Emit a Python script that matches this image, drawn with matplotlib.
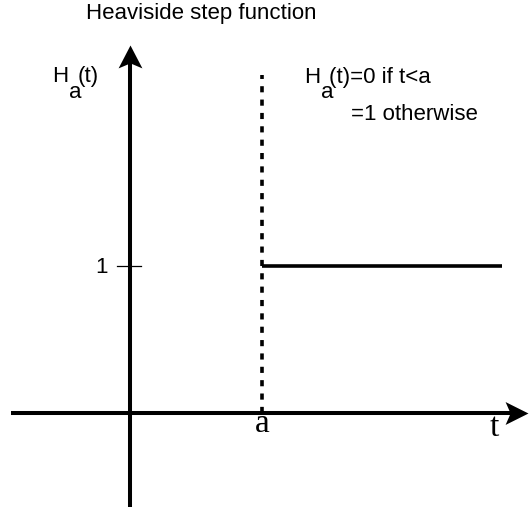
import matplotlib
matplotlib.use("Agg")
from matplotlib import pyplot as plt
from matplotlib.path import Path

# step position and level
a_pos = 1.0
step_level = 1.0
step_t = [a_pos, 2.818]
step_h = [step_level, step_level]

# axis extents (data units)
t_axis = [-0.902, 3.015]
h_axis = [-0.639, 2.503]
dash_top = 2.299
tick_span = [-0.098, 0.083]

sans = "Liberation Sans"
serif = "Liberation Serif"
fs = 16

fig = plt.figure(figsize=(5.3, 5.12), dpi=100)
ax = fig.add_axes([0, 0, 1, 1])
ax.set_xlim(-0.985, 3.030)
ax.set_ylim(-0.673, 2.810)
ax.axis("off")

# arrow heads with a notched back, tip at the marker origin
head_up = Path([(0, 0), (-0.52, -1), (0, -0.78), (0.52, -1), (0, 0)],
               [Path.MOVETO, Path.LINETO, Path.LINETO, Path.LINETO, Path.CLOSEPOLY])
head_right = Path([(0, 0), (-1, 0.5), (-0.78, 0), (-1, -0.5), (0, 0)],
                  [Path.MOVETO, Path.LINETO, Path.LINETO, Path.LINETO, Path.CLOSEPOLY])

# horizontal axis
ax.plot([t_axis[0], t_axis[1] - 0.1], [0, 0], color="black", lw=2.9, solid_capstyle="butt")
ax.plot([t_axis[1]], [0], marker=head_right, ms=33, color="black", mew=0)
# vertical axis
ax.plot([0, 0], [h_axis[0], h_axis[1] - 0.1], color="black", lw=2.9, solid_capstyle="butt")
ax.plot([0], [h_axis[1]], marker=head_up, ms=33, color="black", mew=0)

# dashed line at t=a
ax.plot([a_pos, a_pos], [0, dash_top], color="black", lw=2.6,
        linestyle=(0, (1.7, 2.0)), solid_capstyle="butt")
# step
ax.plot(step_t, step_h, color="black", lw=2.6, solid_capstyle="butt")
# tick at 1
ax.plot(tick_span, [step_level, step_level], color="black", lw=0.9)

ax.text(-0.167, 0.952, "1", fontsize=fs, family=sans, ha="right", va="baseline")
ax.text(a_pos, -0.129, "a", fontsize=24, family=serif, ha="center", va="baseline")
ax.text(2.758, -0.156, "t", fontsize=24, family=serif, ha="center", va="baseline")

ax.text(-0.335, 2.678, "Heaviside step function", fontsize=fs, family=sans,
        ha="left", va="baseline")

# H_a(t) label on the vertical axis
ax.text(-0.59, 2.252, "H", fontsize=fs, family=sans, ha="left", va="baseline")
ax.text(-0.46, 2.145, "a", fontsize=fs, family=sans, ha="left", va="baseline")
ax.text(-0.395, 2.252, "(t)", fontsize=fs, family=sans, ha="left", va="baseline")

# definition
ax.text(1.318, 2.245, "H", fontsize=fs, family=sans, ha="left", va="baseline")
ax.text(1.447, 2.145, "a", fontsize=fs, family=sans, ha="left", va="baseline")
ax.text(1.51, 2.245, "(t)=0 if t<a", fontsize=fs, family=sans, ha="left", va="baseline")
ax.text(1.675, 1.993, "=1 otherwise", fontsize=fs, family=sans, ha="left", va="baseline")

fig.savefig("out.png", dpi=100)
